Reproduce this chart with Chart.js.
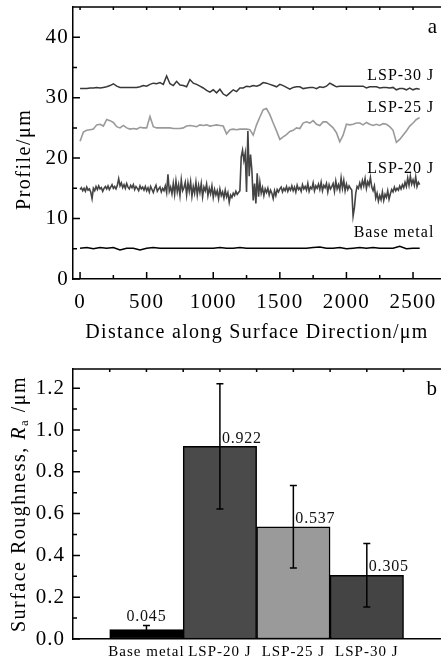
<!DOCTYPE html>
<html>
<head>
<meta charset="utf-8">
<script src="https://cdn.jsdelivr.net/npm/chart.js@4.4.1/dist/chart.umd.min.js"></script>
<style>
  html, body { margin: 0; padding: 0; background: #fff; overflow: hidden; }
  #wrap { position: relative; width: 441px; height: 666px; }
  .box { position: absolute; left: 0; width: 441px; }
  #top { top: 0; height: 350px; }
  #bottom { top: 350px; height: 316px; }
</style>
</head>
<body>
<div id="wrap">
  <div class="box" id="top"><canvas id="profileChart"></canvas></div>
  <div class="box" id="bottom"><canvas id="roughChart"></canvas></div>
</div>
<script>
// ---- panel a: surface profiles (um) ----
const profileNames = ['LSP-30 J', 'LSP-25 J', 'LSP-20 J', 'Base metal'];

// sample spacing along the surface for each trace (um)
const step30 = 25, step25 = 25, step20 = 10, stepBase = 50;

const lsp30 = [
  31.5, 31.5, 31.5, 31.6,  31.6, 31.7, 31.6, 31.7,  31.8, 32.0, 32.3, 31.9,
  31.7, 31.7, 31.7, 31.7,  31.7, 31.7, 31.8, 32.0,  31.9, 32.2, 32.4, 32.3,
  32.5, 32.2, 33.6, 32.3,  32.0, 32.7, 32.1, 32.0,  31.8, 33.0, 32.4, 32.2,
  31.9, 31.6, 31.2, 30.9,  31.3, 30.8, 31.4, 30.6,  30.3, 30.8, 31.3, 31.0,
  31.6, 31.6, 31.9, 31.8,  32.0, 31.9, 32.1, 32.5,  32.4, 32.2, 32.0, 31.8,
  32.2, 32.0, 31.7, 31.4,  31.7, 31.8, 31.8, 31.5,  31.6, 31.7, 31.7, 31.5,
  31.8, 31.7, 31.9, 32.4,  32.1, 31.8, 31.9, 31.9,  31.9, 31.9, 31.9, 31.9,
  31.9, 31.9, 31.6, 31.8,  31.8, 31.8, 31.6, 31.7,  31.7, 31.6, 31.7, 31.3,
  31.5, 31.5, 31.3, 31.6,  31.3, 31.5, 31.4
];

const lsp25 = [
  22.8, 24.3, 24.6, 24.7,  24.8, 25.5, 25.6, 25.3,  26.4, 26.2, 25.9, 25.2,
  25.0, 25.4, 25.0, 24.8,  24.9, 24.8, 25.1, 25.0,  25.0, 26.9, 25.2, 25.0,
  25.0, 25.0, 25.0, 25.0,  24.9, 24.9, 24.9, 25.0,  25.3, 25.4, 25.3, 25.2,
  25.5, 25.4, 25.5, 25.3,  25.4, 25.5, 25.4, 25.3,  24.0, 24.7, 24.8, 24.7,
  24.8, 24.8, 24.8, 24.7,  23.8, 25.5, 26.8, 28.0,  28.2, 27.2, 25.8, 24.5,
  23.1, 23.5, 23.9, 24.4,  24.6, 25.0, 24.9, 25.8,  26.0, 25.8, 26.2, 25.6,
  25.4, 26.0, 26.0, 25.5,  25.0, 24.2, 22.7, 23.8,  25.6, 25.5, 25.6, 25.8,
  25.8, 25.5, 25.9, 25.6,  25.4, 25.6, 25.4, 25.7,  25.6, 25.2, 24.6, 22.6,
  23.1, 23.8, 24.5, 25.3,  25.8, 26.4, 26.7
];

const lsp20 = [
  14.8, 15.1, 14.6, 15.0, 14.5, 15.2, 14.7, 14.9, 14.4, 13.3,
  15.0, 14.6, 15.3, 14.8, 15.4, 14.9, 15.1, 14.5, 15.0, 15.3,
  14.9, 15.4, 14.8, 15.2, 15.6, 15.0, 15.3, 14.9, 15.5, 16.6,
  15.4, 15.9, 15.1, 15.6, 15.0, 15.8, 15.2, 14.9, 15.5, 15.1,
  15.6, 14.8, 15.3, 15.0, 14.6, 15.4, 14.9, 15.2, 14.7, 15.3,
  14.6, 15.1, 14.4, 15.3, 14.8, 14.3, 15.0, 15.5, 14.5, 14.9,
  15.2, 14.4, 15.0, 14.6, 15.4, 14.3, 17.3, 14.5, 15.2, 14.1,
  15.8, 14.0, 16.2, 14.4, 15.6, 13.8, 16.4, 14.6, 15.1, 16.0,
  13.9, 15.9, 14.5, 16.1, 13.7, 15.3, 14.2, 16.0, 13.9, 15.5,
  14.3, 15.8, 13.6, 15.2, 14.6, 15.7, 13.8, 15.0, 14.1, 15.4,
  13.5, 14.8, 13.9, 14.6, 13.3, 14.9, 13.8, 14.4, 13.4, 14.7,
  13.6, 14.3, 12.7, 13.9, 13.5, 14.2, 13.8, 14.5, 14.0, 14.3,
  14.6, 20.2, 21.3, 19.6, 20.8, 14.4, 24.5, 17.0, 20.6, 18.0,
  13.0, 15.8, 12.5, 17.5, 13.6, 16.0, 14.2, 15.1, 13.8, 14.9,
  14.3, 15.0, 13.9, 14.7, 14.2, 13.3, 14.6, 13.8, 14.8, 14.4,
  14.9, 15.2, 14.4, 15.0, 14.6, 15.3, 14.5, 15.1, 14.7, 15.4,
  14.6, 15.2, 14.4, 15.5, 14.8, 15.1, 14.5, 15.6, 14.9, 15.3,
  14.7, 15.8, 14.5, 15.2, 14.9, 15.9, 14.6, 15.4, 15.0, 15.7,
  14.8, 16.0, 14.6, 15.5, 15.1, 15.8, 14.4, 15.6, 14.9, 15.3,
  15.8, 14.5, 16.2, 14.9, 15.6, 14.7, 16.7, 15.0, 16.3, 14.6,
  15.7, 14.8, 15.4, 15.0, 14.7, 10.4, 11.8, 14.2, 15.3, 15.0,
  15.9, 15.1, 16.3, 15.4, 16.6, 15.0, 16.1, 15.5, 16.8, 15.2,
  14.6, 15.4, 13.4, 14.2, 12.9, 13.8, 13.1, 14.4, 13.0, 14.0,
  13.5, 14.6, 13.2, 14.1, 14.8, 14.4, 15.2, 14.6, 15.0, 14.7,
  15.4, 14.9, 15.6, 15.1, 16.0, 15.3, 16.7, 15.5, 17.0, 15.7,
  16.4, 15.5, 16.9, 15.3, 16.0, 15.6
];

const baseMetal = [
  5.1, 5.2, 5.0, 5.2, 5.1, 5.2, 4.8, 5.1, 5.1, 4.8,
  5.1, 5.2, 5.1, 5.1, 5.1, 5.1, 5.1, 5.1, 5.1, 5.1,
  5.1, 5.2, 5.1, 5.1, 5.2, 5.1, 5.1, 5.1, 5.1, 5.1,
  5.1, 5.1, 5.1, 5.1, 5.1, 5.2, 5.3, 5.1, 5.1, 5.2,
  5.0, 5.1, 5.2, 5.1, 5.2, 5.1, 5.1, 5.1, 5.4, 5.0,
  5.1, 5.1
];

const distTicks = [0, 500, 1000, 1500, 2000, 2500];
const profileTicks = [0, 10, 20, 30, 40];

// ---- panel b: roughness Ra (um) ----
const specimens = ['Base metal', 'LSP-20 J', 'LSP-25 J', 'LSP-30 J'];
const roughness = [0.045, 0.922, 0.537, 0.305];
const roughErr = [0.02, 0.30, 0.197, 0.152];
const roughTicks = [0, 0.2, 0.4, 0.6, 0.8, 1.0, 1.2];

const FONT = "'Liberation Serif', 'Times New Roman', serif";

function toPoints(values, step) {
    return values.map((v, i) => ({x: i * step, y: v}));
}

function setSpacing(ctx, px) {
    if ('letterSpacing' in ctx) ctx.letterSpacing = px;
}

function spacingPlugin(px) {
    return {
        id: 'spacing',
        beforeLayout(chart) { setSpacing(chart.ctx, px); },
        beforeDraw(chart) { setSpacing(chart.ctx, px); }
    };
}

 // keep the plot box where the figure has it, no label overhang padding
function fixVertical(width) {
    return axis => { axis.width = width; axis.paddingTop = 0; axis.paddingBottom = 0; };
}
function fixHorizontal(height) {
    return axis => { axis.height = height; axis.paddingLeft = 0; axis.paddingRight = 0; };
}

 // draws the top frame line and the inward tick marks
function drawFrame(chart, yMarks, xMarks, topMarks) {
    const {ctx, chartArea: a, scales: {x, y}} = chart;
    ctx.save();
    ctx.strokeStyle = '#000';
    ctx.lineWidth = 1.5;
    ctx.beginPath();
    ctx.moveTo(a.left, a.top);
    ctx.lineTo(a.right, a.top);
    yMarks.forEach(([v, len]) => {
        const p = y.getPixelForValue(v);
        ctx.moveTo(a.left, p);
        ctx.lineTo(a.left + len, p);
    });
    xMarks.forEach(([v, len]) => {
        const p = x.getPixelForValue(v);
        ctx.moveTo(p, a.bottom);
        ctx.lineTo(p, a.bottom - len);
    });
    topMarks.forEach(([v, len]) => {
        const p = x.getPixelForValue(v);
        if (p > a.right - 1) return;
        ctx.moveTo(p, a.top);
        ctx.lineTo(p, a.top + len);
    });
    ctx.stroke();
    ctx.restore();
}

function drawRotatedTitle(ctx, cx, cy, pieces) {
    ctx.save();
    setSpacing(ctx, '1.5px');
    ctx.translate(cx, cy);
    ctx.rotate(-Math.PI / 2);
    ctx.fillStyle = '#000';
    ctx.textBaseline = 'middle';
    ctx.textAlign = 'left';
    let total = 0;
    pieces.forEach(p => {
        ctx.font = p.font;
        p.w = ctx.measureText(p.text).width;
        total += p.w;
    });
    let pos = -total / 2;
    pieces.forEach(p => {
        ctx.font = p.font;
        ctx.fillText(p.text, pos, p.dy || 0);
        pos += p.w;
    });
    ctx.restore();
}

// ---------- chart a ----------
const profileColors = ['#383838', '#9a9a9a', '#444444', '#000000'];
const profileWidths = [1.5, 1.6, 1.6, 1.5];
const profileSeries = [
    toPoints(lsp30, step30),
    toPoints(lsp25, step25),
    toPoints(lsp20, step20),
    toPoints(baseMetal, stepBase)
];

const profileDecor = {
    id: 'profileDecor',
    afterDraw(chart) {
        const {ctx, chartArea: a, scales: {x, y}} = chart;
        const yMarks = [], xMarks = [], topMarks = [];
        for (let v = 0; v <= 40; v += 10) yMarks.push([v, 7]);
        for (let v = 5; v < 45; v += 10) yMarks.push([v, 4]);
        for (let v = 0; v <= 2500; v += 500) xMarks.push([v, 7]);
        for (let v = 250; v <= 2500; v += 500) xMarks.push([v, 4]);
        for (let v = 0; v <= 2700; v += 250) topMarks.push([v, 3]);
        drawFrame(chart, yMarks, xMarks, topMarks);

        // trace labels
        const anchors = [33.7, 28.4, 18.2, 7.6];
        ctx.save();
        setSpacing(ctx, '1px');
        ctx.fillStyle = '#000';
        ctx.font = '16px ' + FONT;
        ctx.textAlign = 'right';
        ctx.textBaseline = 'middle';
        profileNames.forEach((name, i) => {
            ctx.fillText(name, x.getPixelForValue(2660), y.getPixelForValue(anchors[i]));
        });
        ctx.font = '21px ' + FONT;
        ctx.fillText('a', a.right - 3, a.top + 20);
        ctx.restore();

        drawRotatedTitle(ctx, a.left - 48, a.top + (a.bottom - a.top) * 0.56, [
            {text: 'Profile/\u03bcm', font: '20px ' + FONT}
        ]);
    }
};

new Chart(document.getElementById('profileChart'), {
    type: 'scatter',
    data: {
        datasets: profileSeries.map((pts, i) => ({
            label: profileNames[i],
            data: pts,
            showLine: true,
            borderColor: profileColors[i],
            borderWidth: profileWidths[i],
            pointRadius: 0,
            tension: 0
        }))
    },
    options: {
        responsive: true,
        maintainAspectRatio: false,
        animation: false,
        layout: {padding: {top: 7, right: 0, left: 0, bottom: 0}},
        plugins: {legend: {display: false}, tooltip: {enabled: false}},
        scales: {
            x: {
                type: 'linear',
                min: -53,
                max: 2710,
                grid: {display: false, drawTicks: false},
                border: {display: true, color: '#000', width: 1.5},
                afterBuildTicks: axis => { axis.ticks = distTicks.map(v => ({value: v})); },
                afterFit: fixHorizontal(71),
                ticks: {
                    autoSkip: false, maxRotation: 0, padding: 11, color: '#000',
                    font: {family: FONT, size: 21},
                    callback: v => String(v)
                },
                title: {
                    display: true,
                    text: 'Distance along Surface Direction/\u03bcm',
                    color: '#000',
                    font: {family: FONT, size: 20},
                    padding: {top: 0, bottom: 5}
                }
            },
            y: {
                min: 0,
                max: 45,
                grid: {display: false, drawTicks: false},
                border: {display: true, color: '#000', width: 1.5},
                afterBuildTicks: axis => { axis.ticks = profileTicks.map(v => ({value: v})); },
                afterFit: fixVertical(73),
                ticks: {padding: 4, color: '#000', font: {family: FONT, size: 21}}
            }
        }
    },
    plugins: [spacingPlugin('1.3px'), profileDecor]
});

// ---------- chart b ----------
const barColors = ['#000000', '#4a4a4a', '#9a9a9a', '#444444'];

const roughDecor = {
    id: 'roughDecor',
    afterDatasetsDraw(chart) {
        const {ctx, scales: {x, y}} = chart;
        ctx.save();
        ctx.strokeStyle = '#000';
        ctx.lineWidth = 1.5;
        ctx.beginPath();
        roughness.forEach((v, i) => {
            const px = x.getPixelForValue(i + 1);
            const hi = y.getPixelForValue(v + roughErr[i]);
            const lo = y.getPixelForValue(Math.max(v - roughErr[i], 0));
            ctx.moveTo(px, hi); ctx.lineTo(px, lo);
            ctx.moveTo(px - 3.5, hi); ctx.lineTo(px + 3.5, hi);
            ctx.moveTo(px - 3.5, lo); ctx.lineTo(px + 3.5, lo);
        });
        ctx.stroke();

        // value labels
        setSpacing(ctx, '0.8px');
        ctx.fillStyle = '#111';
        ctx.font = '16px ' + FONT;
        ctx.textBaseline = 'bottom';
        roughness.forEach((v, i) => {
            const px = x.getPixelForValue(i + 1);
            if (i === 0) {
                ctx.textAlign = 'center';
                ctx.fillText(v.toFixed(3), px, y.getPixelForValue(v + roughErr[i]) - 1);
            } else {
                ctx.textAlign = 'left';
                ctx.fillText(v.toFixed(3), px + 2, y.getPixelForValue(v));
            }
        });
        ctx.restore();
    },
    afterDraw(chart) {
        const {ctx, chartArea: a} = chart;
        const yMarks = [], topMarks = [];
        for (let k = 0; k <= 6; k++) yMarks.push([k * 0.2, 7]);
        for (let k = 0; k < 6; k++) yMarks.push([k * 0.2 + 0.1, 4]);
        for (let k = 1; k <= 9; k++) topMarks.push([k * 0.5, 3]);
        drawFrame(chart, yMarks, [], topMarks);

        ctx.save();
        setSpacing(ctx, '1px');
        ctx.fillStyle = '#000';
        ctx.font = '21px ' + FONT;
        ctx.textAlign = 'right';
        ctx.textBaseline = 'middle';
        ctx.fillText('b', a.right - 3, a.top + 20);
        ctx.restore();

        drawRotatedTitle(ctx, a.left - 53, (a.top + a.bottom) / 2, [
            {text: 'Surface Roughness, ', font: '20px ' + FONT},
            {text: 'R', font: 'italic 20px ' + FONT},
            {text: 'a', font: '13px ' + FONT, dy: 5},
            {text: ' /\u03bcm', font: '20px ' + FONT}
        ]);
    }
};

new Chart(document.getElementById('roughChart'), {
    type: 'bar',
    data: {
        datasets: [{
            label: 'Ra',
            data: roughness.map((v, i) => ({x: i + 1, y: v})),
            backgroundColor: barColors,
            borderColor: '#000',
            borderWidth: 1.5,
            borderSkipped: false,
            barPercentage: 1,
            categoryPercentage: 1
        }]
    },
    options: {
        responsive: true,
        maintainAspectRatio: false,
        animation: false,
        layout: {padding: {top: 19, right: 0, left: 0, bottom: 0}},
        plugins: {legend: {display: false}, tooltip: {enabled: false}},
        scales: {
            x: {
                type: 'linear',
                offset: false,
                min: 0,
                max: 5.01,
                grid: {display: false, drawTicks: false, offset: false},
                border: {display: true, color: '#000', width: 1.5},
                afterBuildTicks: axis => { axis.ticks = specimens.map((s, i) => ({value: i + 1})); },
                afterFit: fixHorizontal(27),
                ticks: {
                    autoSkip: false, maxRotation: 0, padding: 4, color: '#000',
                    font: {family: FONT, size: 15},
                    callback: v => specimens[Math.round(v) - 1]
                }
            },
            y: {
                min: 0,
                max: 1.292,
                grid: {display: false, drawTicks: false},
                border: {display: true, color: '#000', width: 1.5},
                afterBuildTicks: axis => { axis.ticks = roughTicks.map(v => ({value: v})); },
                afterFit: fixVertical(73),
                ticks: {
                    padding: 8, color: '#000',
                    font: {family: FONT, size: 21},
                    callback: v => Number(v).toFixed(1)
                }
            }
        }
    },
    plugins: [spacingPlugin('1px'), roughDecor]
});
</script>
</body>
</html>
